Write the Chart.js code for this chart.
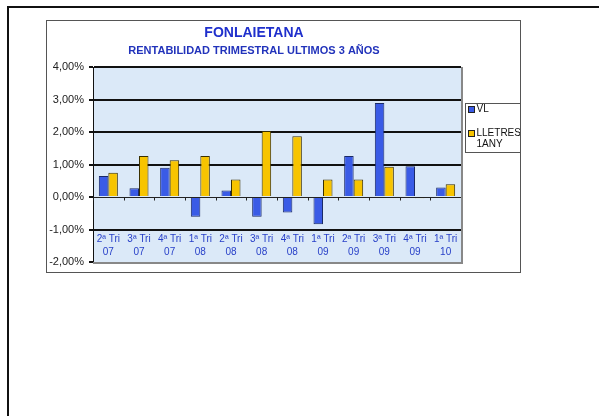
<!DOCTYPE html>
<html><head><meta charset="utf-8">
<script src="https://cdn.jsdelivr.net/npm/chart.js@4/dist/chart.umd.min.js"></script>
<style>
html,body{margin:0;padding:0;background:#fff;width:599px;height:416px;overflow:hidden;font-family:"Liberation Sans",Arial,sans-serif}
#page{position:absolute;left:7px;top:6px;width:600px;height:420px;border-left:2px solid #111;border-top:2px solid #111}
#frame{position:absolute;left:46px;top:20px;width:473px;height:251px;border:1px solid #555;background:#fff}
canvas{display:block}
</style></head><body>
<div id="page"></div>
<div id="frame"><canvas id="c" width="473" height="251"></canvas></div>
<script>
const categories = [['2ª Tri','07'],['3ª Tri','07'],['4ª Tri','07'],['1ª Tri','08'],['2ª Tri','08'],['3ª Tri','08'],['4ª Tri','08'],['1ª Tri','09'],['2ª Tri','09'],['3ª Tri','09'],['4ª Tri','09'],['1ª Tri','10']];
const vlValues = [0.65, 0.27, 0.90, -0.61, 0.20, -0.61, -0.48, -0.84, 1.26, 2.89, 0.95, 0.29];
const lletresValues = [0.75, 1.26, 1.13, 1.26, 0.54, 2.03, 1.87, 0.54, 0.54, 0.93, -0.04, 0.39];
const seriesNames = ['VL', ['LLETRES','1ANY']];
const yTicks = [4, 3, 2, 1, 0, -1, -2];
const titleText = 'FONLAIETANA';
const subtitleText = 'RENTABILIDAD TRIMESTRAL ULTIMOS 3 AÑOS';

const FONT = '"Liberation Sans", Arial, sans-serif';
const BLUE = '#3a5be6';
const GOLD = '#f7c400';

const bgPlugin = {
  id: 'bg',
  beforeDraw(chart) {
    const {ctx, chartArea: a} = chart;
    ctx.save();
    ctx.fillStyle = '#dbe9f8';
    ctx.fillRect(a.left, a.top, a.right - a.left, a.bottom - a.top);
    ctx.restore();
  },
  afterDatasetsDraw(chart) {
    const {ctx, chartArea: a, scales} = chart;
    const x = scales.x, y = scales.y;
    ctx.save();
    // zero line with small tick marks
    const y0 = Math.round(y.getPixelForValue(0)) + 0.5;
    ctx.strokeStyle = '#222';
    ctx.lineWidth = 1;
    ctx.beginPath();
    ctx.moveTo(a.left, y0); ctx.lineTo(a.right, y0);
    for (let i = 0; i <= categories.length; i++) {
      const px = Math.round(a.left + (a.right - a.left) * i / categories.length) + 0.5;
      ctx.moveTo(px, y0); ctx.lineTo(px, y0 + 3);
    }
    ctx.stroke();
    // category labels inside the plot, under the -1% line
    ctx.fillStyle = '#2840c8';
    ctx.font = '10px ' + FONT;
    ctx.textAlign = 'center';
    ctx.textBaseline = 'middle';
    const yMid = y.getPixelForValue(-1.5);
    categories.forEach((lab, i) => {
      const px = x.getPixelForValue(i);
      ctx.fillText(lab[0], px, yMid - 7);
      ctx.fillText(lab[1], px, yMid + 6.5);
    });
    // right shadow border
    ctx.strokeStyle = '#888';
    ctx.lineWidth = 2;
    ctx.beginPath();
    ctx.moveTo(a.right + 1, a.top); ctx.lineTo(a.right + 1, a.bottom + 1);
    ctx.lineTo(a.left, a.bottom + 1);
    ctx.stroke();
    ctx.restore();
  },
  afterDraw(chart) {
    const {ctx} = chart;
    ctx.save();
    // legend box
    const lx = 418.5, ly = 82.5, lw = 55, lh = 49;
    ctx.strokeStyle = '#555';
    ctx.lineWidth = 1;
    ctx.fillStyle = '#fff';
    ctx.fillRect(lx, ly, lw, lh);
    ctx.strokeRect(lx, ly, lw, lh);
    const colors = [BLUE, GOLD];
    const ys = [6, 30];
    ctx.font = '10px ' + FONT;
    ctx.textBaseline = 'middle';
    seriesNames.forEach((name, i) => {
      const by = ly + ys[i];
      ctx.fillStyle = colors[i];
      ctx.fillRect(lx + 3, by - 3, 6, 6);
      ctx.strokeStyle = '#222';
      ctx.strokeRect(lx + 3, by - 3, 6, 6);
      ctx.fillStyle = '#111';
      const lines = Array.isArray(name) ? name : [name];
      lines.forEach((t, j) => ctx.fillText(t, lx + 11, by + j * 11));
    });
    ctx.restore();
  }
};

new Chart(document.getElementById('c'), {
  type: 'bar',
  data: {
    labels: categories.map(c => c.join(' ')),
    datasets: [
      {label: 'VL', data: vlValues, backgroundColor: BLUE, borderColor: '#1a2a66', borderWidth: 1},
      {label: 'LLETRES 1ANY', data: lletresValues, backgroundColor: GOLD, borderColor: '#3a3000', borderWidth: 1}
    ]
  },
  options: {
    responsive: false,
    animation: false,
    events: [],
    layout: {padding: {left: 0, right: 59, top: 0, bottom: 10}},
    categoryPercentage: 0.62,
    barPercentage: 1,
    plugins: {
      legend: {display: false},
      tooltip: {enabled: false},
      title: {display: true, text: titleText, color: '#1f2fcc', font: {family: FONT, size: 14, weight: 'bold'}, padding: {top: 4, bottom: 0}},
      subtitle: {display: true, text: subtitleText, color: '#2233bb', font: {family: FONT, size: 11, weight: 'bold'}, padding: {top: 3, bottom: 9}}
    },
    scales: {
      x: {
        display: true,
        grid: {display: false, drawTicks: false},
        border: {display: false},
        ticks: {display: false},
        afterFit(s) { s.height = 0; }
      },
      y: {
        min: -2, max: 4,
        afterBuildTicks(s) { s.ticks = yTicks.map(v => ({value: v})); },
        afterFit(s) { s.width = 46; s.paddingBottom = 0; },
        border: {display: true, color: '#111', width: 1},
        grid: {
          color: c => (c.tick && (c.tick.value === 0 || c.tick.value === -2)) ? 'rgba(0,0,0,0)' : '#111',
          lineWidth: 2,
          drawTicks: true,
          tickLength: 4,
          tickColor: '#111'
        },
        ticks: {
          color: '#222',
          font: {family: FONT, size: 11},
          padding: 5,
          callback: v => v.toFixed(2).replace('.', ',') + '%'
        }
      }
    }
  },
  plugins: [bgPlugin]
});
</script>
</body></html>
